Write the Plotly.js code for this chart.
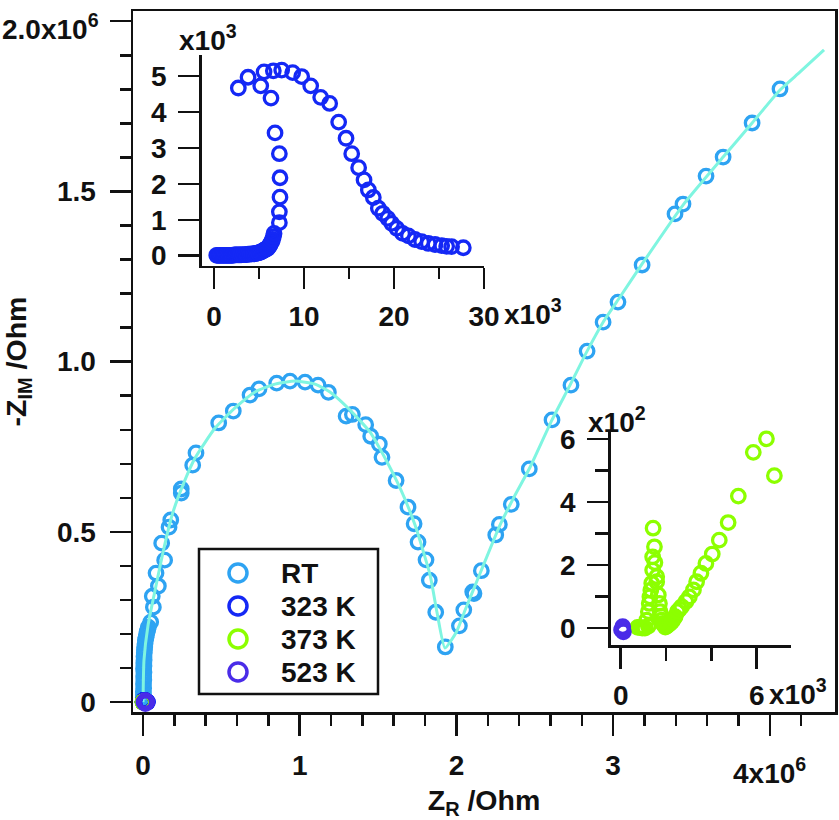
<!DOCTYPE html>
<html><head><meta charset="utf-8">
<script src="https://cdn.plot.ly/plotly-3.0.1.min.js"></script>
<style>html,body{margin:0;padding:0;background:#fff}</style></head>
<body><div id="chart" style="width:839px;height:820px"></div>
<script>
// main axes in units of 1e6 Ohm
const rtX=[0,.002,.003,.002,.004,.003,.005,.004,.006,.003,.006,.005,.007,.006,.008,.009,.011,.013,.015,.019,.022,.026,.030,.034,.049,.066,.059,.098,.083,.138,.119,.166,.177,.244,.244,.317,.338,.483,.576,.683,.740,.853,.938,1.034,1.117,1.183,1.296,1.336,1.421,1.453,1.508,1.525,1.615,1.691,1.730,1.755,1.806,1.827,1.868,1.929,2.019,2.047,2.104,2.112,2.159,2.251,2.274,2.350,2.465,2.610,2.731,2.834,2.936,3.031,3.185,3.395,3.446,3.593,3.702,3.887,4.065];
const rtY=[0,.012,.021,.031,.041,.053,.065,.076,.088,.098,.106,.115,.124,.134,.144,.153,.162,.172,.182,.19,.198,.206,.213,.220,.235,.279,.311,.341,.379,.417,.467,.514,.535,.614,.626,.696,.732,.820,.855,.902,.920,.937,.943,.940,.931,.910,.840,.845,.815,.781,.758,.719,.651,.573,.524,.470,.418,.358,.264,.162,.224,.271,.324,.319,.386,.491,.522,.581,.685,.829,.931,1.031,1.116,1.175,1.284,1.434,1.463,1.545,1.601,1.701,1.801];
const fitX=[0,.006,.032,.077,.128,.185,.255,.332,.460,.587,.715,.842,.970,1.098,1.193,1.321,1.449,1.544,1.640,1.736,1.832,1.876,1.927,2.0,2.055,2.157,2.278,2.374,2.470,2.610,2.725,2.834,2.936,3.044,3.185,3.446,3.702,3.887,4.065,4.193,4.346];
const fitY=[0,.123,.226,.329,.441,.549,.638,.717,.805,.864,.911,.934,.943,.934,.911,.858,.793,.717,.629,.520,.373,.264,.159,.206,.270,.385,.520,.608,.690,.829,.931,1.031,1.116,1.190,1.287,1.460,1.601,1.701,1.798,1.851,1.916];
// insets: 323 K in units of 1e3 Ohm
const k323X=[.3,.45,.6,.75,.9,1.05,1.2,1.35,1.5,1.65,1.8,1.95,2.1,2.25,2.4,2.55,2.7,2.85,3,3.2,3.44,3.6,3.8,4,4.19,4.4,4.6,4.8,4.93,5.1,5.2,5.35,5.48,5.6,5.7,5.82,5.93,6.05,6.15,6.22,6.3,6.41,6.5,6.59,6.67,7.26,7.26,7.33,7.33,7.26,6.78,6.33,5.19,2.70,3.78,5.56,6.59,7.52,8.74,9.74,10.74,11.85,12.85,13.85,14.67,15.30,16.07,16.67,17.15,17.70,18.26,18.74,19.30,19.74,20.30,20.96,21.6,22.33,23.07,23.81,24.56,25.3,25.85,26.4,27.7];
const k323Y=[.01,.01,.01,.01,.01,.01,.01,.01,.01,.01,.01,.01,.01,.02,.02,.02,.02,.02,.02,.03,.03,.03,.04,.04,.05,.05,.06,.07,.08,.09,.1,.12,.14,.16,.17,.19,.2,.24,.27,.3,.35,.39,.45,.53,.62,.92,1.22,1.63,2.17,2.84,3.42,4.39,4.73,4.67,4.97,5.12,5.15,5.17,5.10,4.99,4.73,4.41,4.24,3.72,3.27,2.84,2.45,2.11,1.83,1.62,1.32,1.18,1.04,.90,.76,.62,.55,.45,.39,.34,.31,.28,.26,.25,.22];
// 373 K: x in 1e3 Ohm, y in 1e2 Ohm
const k373X=[.75,.85,.95,1.07,1.15,1.22,1.22,1.26,1.29,1.33,1.37,1.41,1.41,1.49,1.43,1.51,1.59,1.59,1.66,1.71,1.74,1.78,1.81,1.85,1.91,1.97,2.03,2.1,2.18,2.25,2.33,2.4,2.5,2.6,2.69,2.88,3.03,3.21,3.35,3.54,3.76,4.04,4.35,4.74,5.19,5.85,6.43,6.78];
const k373Y=[.02,.02,.0,0,.25,.06,.52,.78,.99,1.2,1.42,1.84,2.26,2.58,3.17,2.08,1.63,1.47,1.05,.78,.52,.38,.25,.15,.1,.03,.06,.1,.15,.2,.28,.36,.52,.6,.68,.84,.99,1.21,1.47,1.74,2.05,2.35,2.79,3.35,4.19,5.58,6.01,4.84];
const k523X=[.09,.12,.04,.09];
const k523Y=[.04,-.12,-.06,-.04];
const main523X=[.005,.024,.015,.015];
const main523Y=[0,0,.004,-.004];
const toMillion=a=>a.map(v=>v/1000);
const names=['RT','323 K','373 K','523 K'];
const colors=['#2ea3f2','#1428f5','#8cff00','#4a2ce8'];
const fitColor='#7ff5e0';
const xTicks=[0,1,2,3,4], xLabels=['0','1','2','3',''];
const xMinor=[.2,.4,.6,.8,1.2,1.4,1.6,1.8,2.2,2.4,2.6,2.8,3.2,3.4,3.6,3.8,4.2];
const yTicks=[0,.5,1,1.5,2], yLabels=['0','0.5','1.0','1.5',''];
const yMinor=[.1,.2,.3,.4,.6,.7,.8,.9,1.1,1.2,1.3,1.4,1.6,1.7,1.8,1.9];

const W=839,H=820,FONT='"Liberation Sans", Arial, sans-serif',INK='#111';
const px=(a,b)=>[a/W,b/W], py=(top,bot)=>[1-bot/H,1-top/H];
const mk=(c,s,w)=>({symbol:'circle-open',size:s||13.5,color:c,line:{width:w||3.3,color:c}});
const tf={family:FONT,size:28,color:INK,weight:'bold'};
const titleFont={family:FONT,size:28.5,color:INK,weight:'bold'};
function axis(o){return Object.assign({showgrid:false,zeroline:false,showline:true,linecolor:INK,linewidth:2.5,ticks:'outside',tickcolor:INK,tickwidth:2.5,ticklen:21,tickfont:tf,tickmode:'array',fixedrange:true},o);}
function minor(v,len){return {tickmode:'array',tickvals:v,ticks:'outside',ticklen:len||11,tickwidth:2.5,tickcolor:INK,showgrid:false};}
const pts=(x,y,i,xa,ya,s)=>({x,y,xaxis:xa,yaxis:ya,mode:'markers',type:'scatter',name:names[i],showlegend:false,cliponaxis:false,hoverinfo:'skip',marker:mk(colors[i],s)});
const data=[
 pts(rtX,rtY,0,'x','y'),
 {x:fitX,y:fitY,mode:'lines',type:'scatter',line:{color:fitColor,width:3,shape:'spline',smoothing:.5},showlegend:false,hoverinfo:'skip',name:'RT fit'},
 pts(toMillion(k323X),toMillion(k323Y),1,'x','y'),
 pts(toMillion(k373X),k373Y.map(v=>v/1e4),2,'x','y'),
 pts(main523X,main523Y,3,'x','y'),
 pts(k323X,k323Y,1,'x2','y2'),
 pts(k373X,k373Y,2,'x3','y3'),
 pts(k523X,k523Y,3,'x3','y3')
];
// legend key: one marker per row on a hidden axis pair inside the legend box
names.forEach((n,i)=>data.push({x:[0],y:[i],xaxis:'x4',yaxis:'y4',type:'scatter',mode:'markers',name:n,showlegend:false,cliponaxis:false,hoverinfo:'skip',marker:mk(colors[i],18,3.5)}));
const ann=(t,x,y,a,extra)=>Object.assign({text:t,x:x/W,y:1-y/H,xref:'paper',yref:'paper',xanchor:a||'left',yanchor:'middle',showarrow:false,font:tf},extra||{});
const rowY=[573,606,639,672];
const hidden={visible:false,fixedrange:true,showgrid:false,zeroline:false};
const layout={
 width:W,height:H,margin:{l:0,r:0,t:0,b:0,pad:0},paper_bgcolor:'#fff',plot_bgcolor:'#fff',showlegend:false,
 font:{family:FONT,color:INK},
 xaxis:axis({domain:px(133,835),range:[-.064,4.416],mirror:true,tickvals:xTicks,ticktext:xLabels,minor:minor(xMinor),anchor:'y',ticklabelstandoff:6,title:{text:'Z<sub>R</sub> /Ohm',font:titleFont,standoff:10}}),
 yaxis:axis({domain:py(11,712),range:[-.029,2.03],mirror:true,tickvals:yTicks,ticktext:yLabels,minor:minor(yMinor),anchor:'x',ticklabelstandoff:8,title:{text:'-Z<sub>IM</sub> /Ohm',font:titleFont,standoff:37}}),
 xaxis2:axis({domain:px(201.7,484),range:[-1.37,30],tickvals:[0,10,20,30],ticktext:['0','10','20','30'],minor:minor([5,15,25]),anchor:'y2',ticklabelstandoff:3}),
 yaxis2:axis({domain:py(55,265.7),range:[-.28,5.59],tickvals:[0,1,2,3,4,5],ticktext:['0','1','2','3','4','5'],anchor:'x2',ticklabelstandoff:6}),
 xaxis3:axis({domain:px(610.7,790.7),range:[-.44,7.5],tickvals:[0,6],ticktext:['0','6'],minor:minor([2,4],13),anchor:'y3',ticklabelstandoff:3}),
 yaxis3:axis({domain:py(430,645),range:[-.54,6.29],tickvals:[0,2,4,6],ticktext:['0','2','4','6'],minor:minor([1,3,5],13),anchor:'x3',ticklabelstandoff:6}),
 xaxis4:Object.assign({domain:px(228,248),range:[-1,1],anchor:'y4'},hidden),
 yaxis4:Object.assign({domain:py(573,672),range:[3,0],anchor:'x4'},hidden),
 shapes:[{type:'rect',xref:'paper',yref:'paper',x0:199/W,x1:378/W,y0:1-549/H,y1:1-694/H,line:{color:INK,width:2.5},fillcolor:'rgba(0,0,0,0)',layer:'above'}],
 annotations:[
  ann('2.0x10<sup>6</sup>',101,27,'right'),
  ann('4x10<sup>6</sup>',769.5,771,'center'),
  ann('x10<sup>3</sup>',177,38),
  ann('x10<sup>3</sup>',502,312),
  ann('x10<sup>3</sup>',767,692),
  ann('x10<sup>2</sup>',586,420)
 ].concat(names.map((n,i)=>ann(n,279,rowY[i],'left')))
};
Plotly.newPlot('chart',data,layout,{displayModeBar:false,staticPlot:true});
</script></body></html>
